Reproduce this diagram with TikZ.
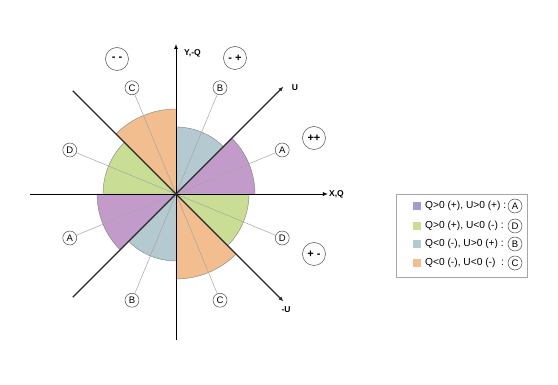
\documentclass[tikz,border=0pt]{standalone}
\usepackage{fontspec}
\setmainfont{Liberation Sans}
\usetikzlibrary{arrows.meta}
\definecolor{cA}{HTML}{C39BCB}
\definecolor{cB}{HTML}{B4C9D0}
\definecolor{cC}{HTML}{F2BD8F}
\definecolor{cD}{HTML}{CADD94}
\definecolor{cAleg}{HTML}{A29BD0}
\begin{document}
\begin{tikzpicture}[x=1pt,y=1pt,
  sector/.style={draw=black!50,line width=0.4pt},
  bisect/.style={draw=black!35,line width=0.5pt},
  axisline/.style={draw=black,line width=0.9pt},
  diagline/.style={draw=black!85,line width=1.2pt},
  tip/.style={-{Latex[length=5pt,width=4pt]}},
  letter/.style={circle,draw=black!70,line width=0.5pt,fill=white,minimum size=14pt,inner sep=0pt,font=\fontsize{9.5}{10}\selectfont},
  sign/.style={circle,draw=black!70,line width=0.5pt,fill=white,minimum size=23pt,inner sep=0pt,font=\bfseries\fontsize{11}{12}\selectfont},
  axlabel/.style={font=\bfseries\fontsize{8.5}{9}\selectfont,inner sep=1pt},
  legtext/.style={anchor=west,inner sep=0pt,font=\fontsize{10.2}{11}\selectfont},
  legsq/.style={minimum size=8pt,inner sep=0pt}
]
\useasboundingbox (-176,-191) rectangle (382,194);
% sectors
\fill[cA] (0,0) -- (0:79) arc (0:45:79) -- cycle;
\draw[sector] (0:79) arc (0:45:79);
\fill[cB] (0,0) -- (45:67) arc (45:90:67) -- cycle;
\draw[sector] (45:67) arc (45:90:67);
\fill[cC] (0,0) -- (90:85) arc (90:135:85) -- cycle;
\draw[sector] (90:85) arc (90:135:85);
\fill[cD] (0,0) -- (135:73) arc (135:180:73) -- cycle;
\draw[sector] (135:73) arc (135:180:73);
\fill[cA] (0,0) -- (180:79) arc (180:225:79) -- cycle;
\draw[sector] (180:79) arc (180:225:79);
\fill[cB] (0,0) -- (225:67) arc (225:270:67) -- cycle;
\draw[sector] (225:67) arc (225:270:67);
\fill[cC] (0,0) -- (270:85) arc (270:315:85) -- cycle;
\draw[sector] (270:85) arc (270:315:85);
\fill[cD] (0,0) -- (315:73) arc (315:360:73) -- cycle;
\draw[sector] (315:73) arc (315:360:73);
% letter circles
\node[letter] (A1) at (22.5:115) {A};
\node[letter] (A2) at (202.5:115) {A};
\node[letter] (B1) at (67.5:115) {B};
\node[letter] (B2) at (247.5:115) {B};
\node[letter] (C1) at (112.5:115) {C};
\node[letter] (C2) at (292.5:115) {C};
\node[letter] (D1) at (157.5:115) {D};
\node[letter] (D2) at (337.5:115) {D};
\draw[bisect] (A1) -- (A2);
\draw[bisect] (B1) -- (B2);
\draw[bisect] (C1) -- (C2);
\draw[bisect] (D1) -- (D2);
% axes
\coordinate (xs) at (-146,0);
\coordinate (xe) at (152,0);
\coordinate (ys) at (0,-146);
\coordinate (ye) at (0,150);
\coordinate (us) at (225:146);
\coordinate (ue) at (45:152);
\coordinate (ms) at (135:146);
\coordinate (me) at (-45:152);
\draw[axisline,tip] (xs) -- (xe);
\draw[axisline,tip] (ys) -- (ye);
\draw[diagline,tip] (us) -- (ue);
\draw[diagline,tip] (ms) -- (me);
\node[axlabel,anchor=west] (lx) at (xe) {X,Q};
\node[axlabel,anchor=west] (ly) at (7,141) {Y,-Q};
\node[axlabel] (lu) at (119,106) {U};
\node[axlabel] (lmu) at (110,-116) {-U};
% signs
\node[sign] (s1) at (-59,135) {- -};
\node[sign] (s2) at (59,136) {- +};
\node[sign] (s3) at (138,56) {++};
\node[sign] (s4) at (138,-60) {+ -};
% legend
\node[draw=black!35,line width=0.6pt,minimum width=131pt,minimum height=83pt,inner sep=0pt,anchor=north west] (leg) at (220,0) {};
\node[legsq,fill=cAleg] (q1) at (241,-12) {};
\node[legsq,fill=cD] (q2) at (241,-32) {};
\node[legsq,fill=cB] (q3) at (241,-50) {};
\node[legsq,fill=cC] (q4) at (241,-69) {};
\node[legtext] (t1) at (249,-12) {Q>0 (+), U>0 (+) :};
\node[legtext] (t2) at (249,-32) {Q>0 (+), U<0 (-) :};
\node[legtext] (t3) at (249,-50) {Q<0 (-), U>0 (+) :};
\node[legtext] (t4) at (249,-69) {Q<0 (-), U<0 (-) \ :};
\node[letter] (la) at (339,-12) {A};
\node[letter] (ld) at (339,-32) {D};
\node[letter] (lb) at (339,-50) {B};
\node[letter] (lc) at (339,-69) {C};
\end{tikzpicture}
\end{document}
